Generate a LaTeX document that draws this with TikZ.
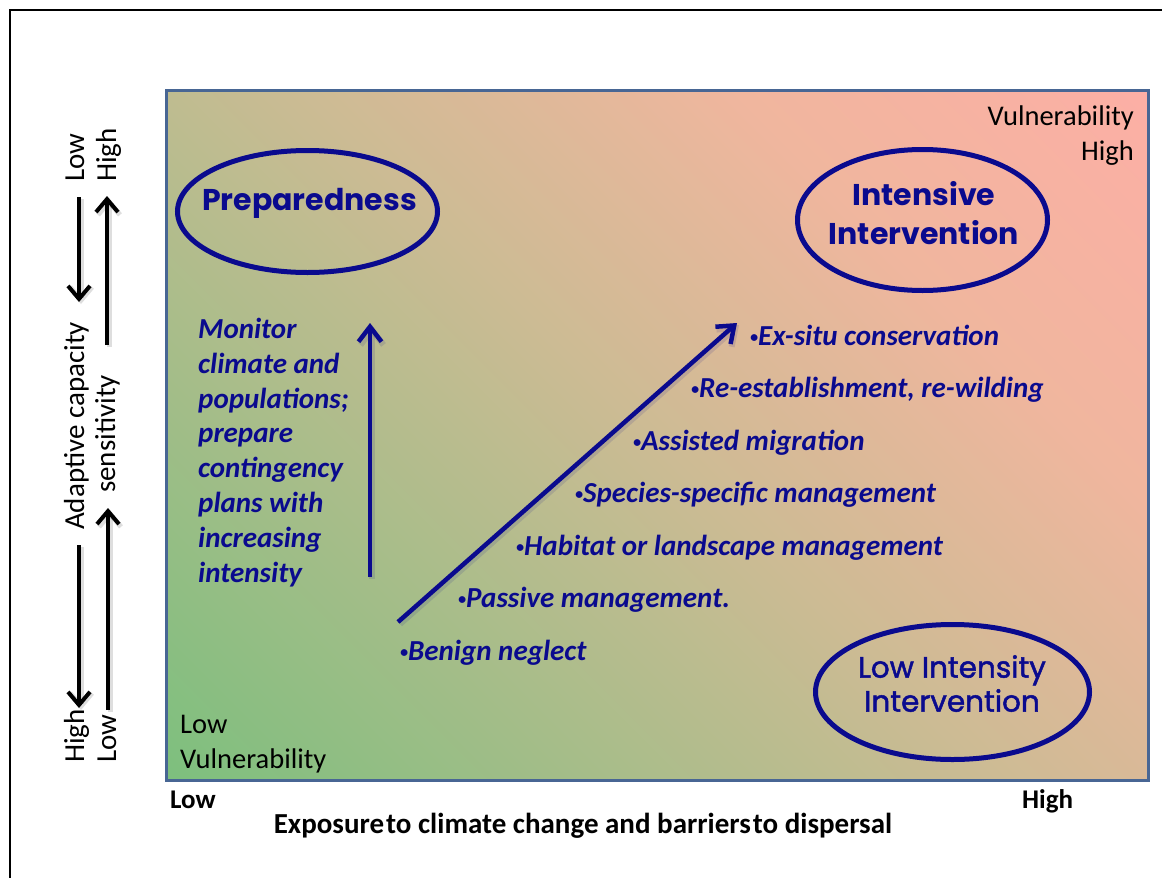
\documentclass[tikz,border=0pt]{standalone}
\usepackage{fontspec}
\setmainfont{Carlito}
\newfontfamily\comicfont{Poppins}
\newfontfamily\comicmed{Poppins}[FakeBold=1.6]
\usetikzlibrary{arrows.meta,shapes.geometric}
\definecolor{navy}{RGB}{10,10,142}
\definecolor{boxblue}{RGB}{72,102,148}
\definecolor{vgreen}{RGB}{118,192,124}
\definecolor{vgreenb}{RGB}{126,191,126}
\definecolor{vtan}{RGB}{205,187,148}
\definecolor{vpeach}{RGB}{240,182,158}
\definecolor{vpinkb}{RGB}{252,175,165}
\definecolor{vpink}{RGB}{255,166,168}
\pgfdeclarehorizontalshading{vuln}{100bp}{color(0bp)=(vgreen); color(15bp)=(vgreenb); color(50bp)=(vtan); color(68bp)=(vpeach); color(85bp)=(vpinkb); color(100bp)=(vpink)}
\newcommand\smallbul{\raisebox{3pt}{\fontsize{16}{16}\selectfont •}}
\tikzset{
  oval/.style={ellipse, draw=navy, line width=5pt, inner sep=0pt},
  ovaltext/.style={text=navy, inner sep=0pt, align=center, font=\comicfont\bfseries\fontsize{30}{39}\selectfont},
  ovaltextlight/.style={text=navy, inner sep=0pt, align=center, font=\comicmed\fontsize{29.5}{34}\selectfont},
  item/.style={text=navy, inner sep=0pt, anchor=base west, font=\bfseries\itshape\fontsize{29}{32}\selectfont},
  sidelabel/.style={inner sep=0pt, rotate=90, anchor=base west, font=\fontsize{29}{35}\selectfont},
  corner/.style={inner sep=0pt, font=\fontsize{28.5}{35}\selectfont},
  axislabel/.style={inner sep=0pt, anchor=base west, font=\bfseries\fontsize{27}{32}\selectfont},
  blackarrow/.style={line width=4pt, -{Straight Barb[length=13pt,width=22pt]}},
  shadowarrow/.style={line width=5pt, black, opacity=0.13, -{Straight Barb[length=13pt,width=22pt]}},
  navyarrow/.style={line width=4.5pt, navy, -{Straight Barb[length=15pt,width=23pt]}},
  navyshadow/.style={line width=6pt, navy, opacity=0.12, -{Straight Barb[length=15pt,width=23pt]}},
}
\begin{document}
\begin{tikzpicture}[x=1pt, y=-1pt]
\useasboundingbox (0,0) rectangle (1162,878);
\fill[white] (0,0) rectangle (1162,878);
% outer frame
\draw[line width=2pt] (10,880) -- (10,10) -- (1164,10);
% main panel
\path[shading=vuln, shading angle=45] (166,90) rectangle (1148,780);
\draw[boxblue, line width=3pt] (166,90) rectangle (1148,780);

% ovals
\node[oval, minimum width=260pt, minimum height=122pt] (prep) at (307.5,211.5) {};
\node[ovaltext, anchor=base] (preptext) at (309.5,210) {Preparedness};
\node[oval, minimum width=250pt, minimum height=141pt] (intense) at (922.5,220) {};
\node[ovaltext, anchor=north] (intensetext) at (924,181) {Intensive\\Intervention};
\node[oval, minimum width=274pt, minimum height=135pt] (lowint) at (952.5,692) {};
\node[ovaltextlight, anchor=north] (lowinttext) at (952,655) {Low Intensity\\Intervention};

% corner labels (base anchor = last line's baseline)
\node[corner, anchor=base east, align=right] (vhigh) at (1134,160) {Vulnerability\\High};
\node[corner, anchor=base west, align=left] (vlow) at (180,768) {Low\\Vulnerability};

% monitor text
\node[text=navy, inner sep=0pt, anchor=north west, align=left,
  font=\bfseries\itshape\fontsize{29}{34.8}\selectfont] (monitor) at (198,318)
  {Monitor\\climate and\\populations;\\prepare\\contingency\\plans with\\increasing\\intensity};

% navy arrows
\coordinate (vtail) at (370,577);
\coordinate (vtip) at (370,323);
\coordinate (dtail) at (398,622);
\coordinate (dtip) at (737,323);
\draw[navyshadow] ([shift={(2,2)}]vtail) -- ([shift={(2,2)}]vtip);
\draw[navyshadow] ([shift={(2,2)}]dtail) -- ([shift={(2,2)}]dtip);
\draw[navyarrow] (vtail) -- (vtip);
\draw[navyarrow] (dtail) -- (dtip);

% list items
\node[item] (i1) at (750,345) {\smallbul Ex-situ conservation};
\node[item] (i2) at (691,397.5) {\smallbul Re-establishment, re-wilding};
\node[item] (i3) at (633,450) {\smallbul Assisted migration};
\node[item] (i4) at (575,502.5) {\smallbul Species-specific management};
\node[item] (i5) at (516,555) {\smallbul Habitat or landscape management};
\node[item] (i6) at (458,607.5) {\smallbul Passive management.};
\node[item] (i7) at (400,660) {\smallbul Benign neglect};

% left axis
\node[sidelabel] (lowtop) at (84,182) {Low};
\node[sidelabel] (hightop) at (116,182) {High};
\node[sidelabel] (adapt) at (84,530) {Adaptive capacity};
\node[sidelabel] (sens) at (115,493) {sensitivity};
\node[sidelabel] (highbot) at (84,763) {High};
\node[sidelabel] (lowbot) at (116,763) {Low};
\coordinate (la1) at (79,197);
\coordinate (la2) at (79,302);
\coordinate (ra1) at (107,345);
\coordinate (ra2) at (107,196);
\coordinate (lb1) at (79,545);
\coordinate (lb2) at (79,708);
\coordinate (rb1) at (108,710);
\coordinate (rb2) at (108,508);
\foreach \a/\b in {la1/la2,ra1/ra2,lb1/lb2,rb1/rb2}{
  \draw[shadowarrow] ([shift={(2,2)}]\a) -- ([shift={(2,2)}]\b);
  \draw[blackarrow] (\a) -- (\b);
}

% bottom axis
\node[axislabel] (xlow) at (170,808) {Low};
\node[axislabel] (xhigh) at (1022,808) {High};
\node[inner sep=0pt, anchor=base, font=\bfseries\fontsize{29}{32}\selectfont] (xtitle) at (583,833) {Exposure\hspace{2pt}to climate change and barriers\hspace{2pt}to dispersal};
\end{tikzpicture}
\end{document}
